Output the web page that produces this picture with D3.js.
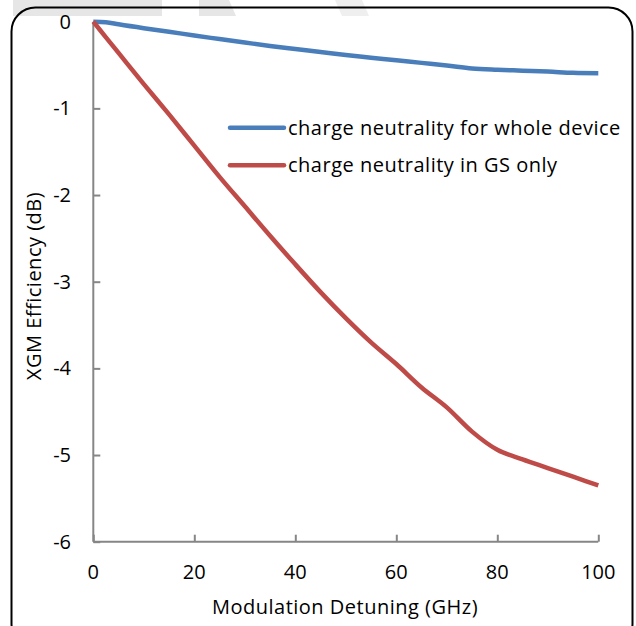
<!DOCTYPE html>
<html><head><meta charset="utf-8">
<script src="https://cdn.jsdelivr.net/npm/d3@7"></script>
<style>html,body{margin:0;padding:0;background:#fff}svg{display:block}text{font-family:"Open Sans",sans-serif;fill:#000}</style>
</head><body><svg id="c" width="636" height="626"></svg>
<script>
const xValues = [0,2.5,5,10,15,20,25,30,35,40,45,50,55,60,65,70,75,80,85,90,95,100];
const wholeDevice = [0,-0.005,-0.03,-0.075,-0.115,-0.16,-0.2,-0.24,-0.28,-0.315,-0.35,-0.385,-0.415,-0.445,-0.475,-0.505,-0.54,-0.555,-0.565,-0.575,-0.59,-0.595];
const gsOnly = [0,-0.18,-0.36,-0.72,-1.07,-1.43,-1.79,-2.13,-2.47,-2.80,-3.12,-3.42,-3.70,-3.95,-4.22,-4.45,-4.73,-4.94,-5.05,-5.15,-5.25,-5.35];
const seriesNames = ["charge neutrality for whole device","charge neutrality in GS only"];
const seriesColors = ["#4a7ebb","#be4b48"];
const xTicks = [0,20,40,60,80,100];
const yTicks = [0,-1,-2,-3,-4,-5,-6];

const svg = d3.select("#c");
const FS = 20, LS = 0.5;
// faint watermark bands at top
svg.append("rect").attr("x",13).attr("y",0).attr("width",149).attr("height",16).attr("fill","#e6e6e6");
svg.append("path").attr("d","M199,0L229,0L236,16L199,16Z").attr("fill","#e6e6e6");
svg.append("path").attr("d","M335,0L362,0L369,16L342,16Z").attr("fill","#efefef");
// border
svg.append("rect").attr("x",11.5).attr("y",7.5).attr("width",621).attr("height",640).attr("rx",24).attr("ry",24)
  .attr("fill","none").attr("stroke","#000").attr("stroke-width",2);

const x = d3.scaleLinear().domain([0,100]).range([93.3,598.3]);
const y = d3.scaleLinear().domain([-6,0]).range([541.7,21.7]);

// axes
const gx = svg.append("g").attr("transform",`translate(0,${y(-6)})`)
  .call(d3.axisTop(x).tickValues(xTicks).tickSize(7).tickFormat(""));
const gy = svg.append("g").attr("transform",`translate(${x(0)},0)`)
  .call(d3.axisRight(y).tickValues(yTicks).tickSize(7).tickFormat(""));
[gx,gy].forEach(g=>{g.selectAll("path,line").attr("stroke","#868686").attr("stroke-width",2);});
gx.select(".domain").attr("d",`M${x(0)},0H${x(100)}`);
gy.select(".domain").attr("d",`M0,${y(0)}V${y(-6)}`);

// tick labels
svg.append("g").selectAll("text").data(xTicks).join("text")
  .attr("x",d=>x(d)).attr("y",579).attr("text-anchor","middle").attr("font-size",FS).text(d=>d);
svg.append("g").selectAll("text").data(yTicks).join("text")
  .attr("x",71).attr("y",d=>y(d)+7).attr("text-anchor","end").attr("font-size",FS).text(d=>d);

// titles
svg.append("text").attr("x",345).attr("y",614).attr("text-anchor","middle").attr("font-size",FS).attr("letter-spacing",LS).text("Modulation Detuning (GHz)");
svg.append("text").attr("transform","translate(41,286) rotate(-90)").attr("text-anchor","middle").attr("font-size",FS).attr("letter-spacing",LS).text("XGM Efficiency (dB)");

// lines
const line = d3.line().x(d=>x(d[0])).y(d=>y(d[1])).curve(d3.curveMonotoneX);
[wholeDevice,gsOnly].forEach((s,i)=>{
  svg.append("path").datum(xValues.map((v,j)=>[v,s[j]])).attr("d",line)
    .attr("fill","none").attr("stroke",seriesColors[i]).attr("stroke-width",4.5).attr("stroke-linejoin","round");
});

// legend
const leg = svg.append("g");
seriesNames.forEach((n,i)=>{
  const ly = 127.7 + i*37.5;
  leg.append("line").attr("x1",230).attr("x2",284).attr("y1",ly).attr("y2",ly)
    .attr("stroke",seriesColors[i]).attr("stroke-width",4.5).attr("stroke-linecap","round");
  leg.append("text").attr("x",288).attr("y",ly+7).attr("font-size",FS).attr("letter-spacing",LS).text(n);
});
</script></body></html>
